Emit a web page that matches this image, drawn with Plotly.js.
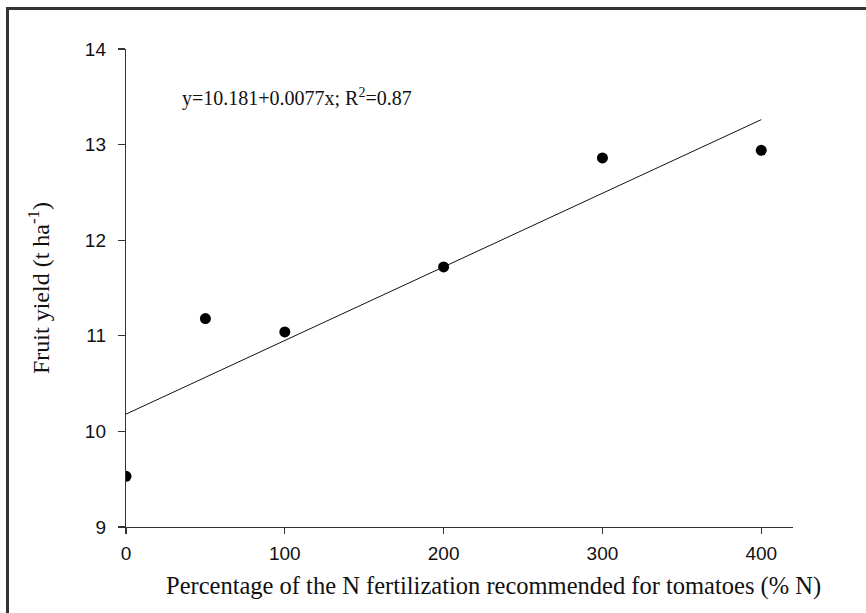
<!DOCTYPE html>
<html>
<head>
<meta charset="utf-8">
<script src="https://cdn.plot.ly/plotly-3.0.1.min.js"></script>
<style>
html,body{margin:0;padding:0;background:#fff;}
#wrap{position:relative;width:866px;height:613px;overflow:hidden;}
#frame{position:absolute;left:6px;top:7px;width:900px;height:700px;border-left:3px solid #333;border-top:3px solid #333;pointer-events:none;z-index:5;}
#chart{position:absolute;left:0;top:0;width:866px;height:613px;}
</style>
</head>
<body>
<div id="wrap">
<div id="chart"></div>
<div id="frame"></div>
</div>
<script>
const nPercent = [0, 50, 100, 200, 300, 400];
const fruitYield = [9.53, 11.18, 11.04, 11.72, 12.86, 12.94];
const fitX = [0, 400];
const fitY = [10.181, 13.261];
const xTicks = [0, 100, 200, 300, 400];
const yTicks = [9, 10, 11, 12, 13, 14];
const equationText = 'y=10.181+0.0077x; R<sup>2</sup>=0.87';
const xTitleText = 'Percentage of the N fertilization recommended for tomatoes (% N)';
const yTitleText = 'Fruit yield (t ha<sup>-1</sup>)';

const traces = [
  {x: fitX, y: fitY, mode: 'lines', type: 'scatter', line: {color: '#111', width: 1}, hoverinfo: 'skip', showlegend: false},
  {x: nPercent, y: fruitYield, mode: 'markers', type: 'scatter', marker: {color: '#000', size: 11}, showlegend: false}
];

const layout = {
  width: 866, height: 613,
  margin: {l: 126, r: 73, t: 49, b: 86},
  paper_bgcolor: '#fff', plot_bgcolor: '#fff',
  showlegend: false,
  xaxis: {
    range: [0, 420], tickvals: xTicks, ticktext: xTicks.map(String),
    showgrid: false, zeroline: false, showline: true, linecolor: '#333', linewidth: 1.2,
    ticks: 'outside', ticklen: 6, tickcolor: '#333', tickwidth: 1.2, ticklabelstandoff: 3,
    tickfont: {family: 'Liberation Sans, Arial, sans-serif', size: 19, color: '#111'}
  },
  yaxis: {
    range: [9, 14], tickvals: yTicks, ticktext: yTicks.map(String),
    showgrid: false, zeroline: false, showline: true, linecolor: '#333', linewidth: 1.2,
    ticks: 'outside', ticklen: 7, tickcolor: '#333', tickwidth: 1.2, ticklabelstandoff: 8,
    tickfont: {family: 'Liberation Sans, Arial, sans-serif', size: 19, color: '#111'},
    title: {text: yTitleText, standoff: 28,
      font: {family: 'Liberation Serif, Times New Roman, serif', size: 24, color: '#111'}}
  },
  annotations: [{
    x: 34, y: 13.49, xref: 'x', yref: 'y', xanchor: 'left', yanchor: 'middle',
    text: equationText, showarrow: false,
    font: {family: 'Liberation Serif, Times New Roman, serif', size: 20, color: '#111'}
  }, {
    x: 0.551, y: -0.124, xref: 'paper', yref: 'paper', xanchor: 'center', yanchor: 'middle',
    text: xTitleText, showarrow: false,
    font: {family: 'Liberation Serif, Times New Roman, serif', size: 24.5, color: '#111'}
  }]
};

Plotly.newPlot('chart', traces, layout, {displayModeBar: false, staticPlot: true});
</script>
</body>
</html>
